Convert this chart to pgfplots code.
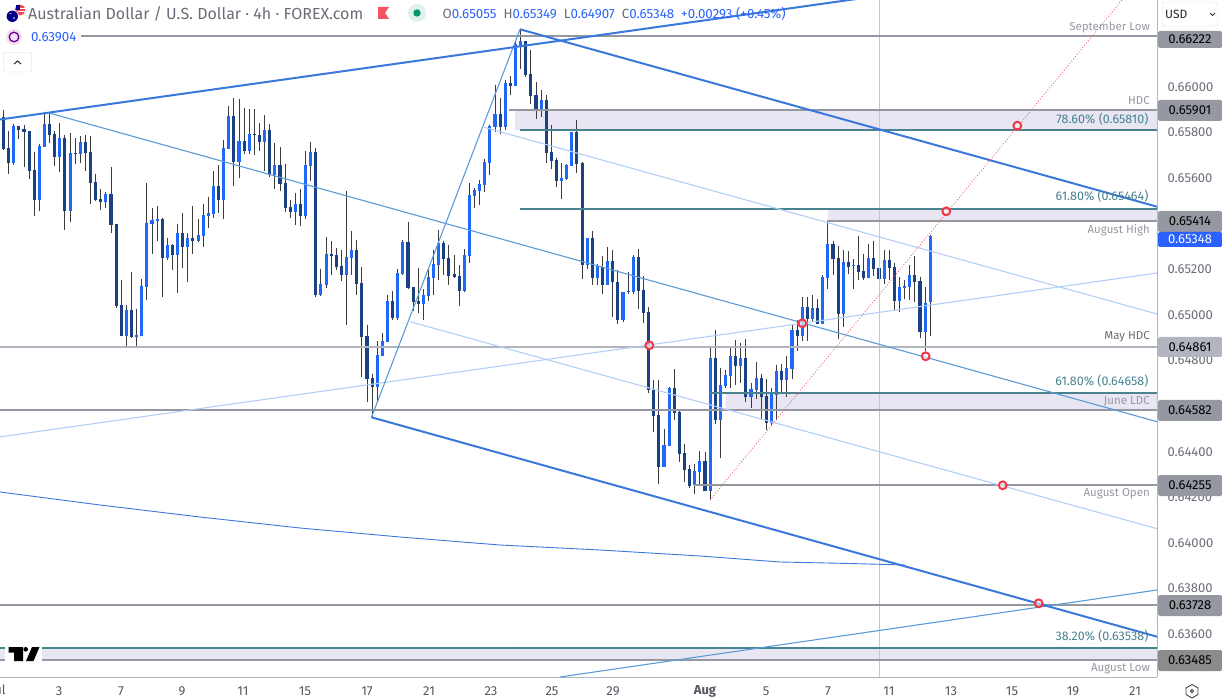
\documentclass[border=0pt]{standalone}
\usepackage{pgfplots}
\usepackage{pgfplotstable}
\usepackage{fontspec}
\setmainfont{Fira Sans}
\pgfplotsset{compat=1.18}
\definecolor{candU}{HTML}{2068FA}
\definecolor{candD}{HTML}{1A4283}
\definecolor{wick}{HTML}{3C3C3C}
\definecolor{lvl}{HTML}{9598A1}
\definecolor{lvlL}{HTML}{B2B5BE}
\definecolor{teal2}{HTML}{4A8290}
\definecolor{zone}{HTML}{E9E6F3}
\definecolor{thick}{HTML}{3B78DC}
\definecolor{mid}{HTML}{5B9BD5}
\definecolor{pale}{HTML}{B3CFF7}
\definecolor{redc}{HTML}{F23645}
\definecolor{tvb}{HTML}{2962FF}
\definecolor{txt}{HTML}{6A6D78}
\pgfplotstableread{
i o h l c
2 0.65666 0.65838 0.65658 0.65829
7 0.65505 0.65749 0.65457 0.65742
8 0.65739 0.65888 0.65739 0.65838
11 0.65693 0.65841 0.65625 0.65777
13 0.65457 0.65797 0.65410 0.65710
15 0.65707 0.65785 0.65666 0.65759
20 0.65496 0.65540 0.65470 0.65531
24 0.64908 0.65044 0.64861 0.65022
26 0.64904 0.65027 0.64861 0.64913
27 0.64908 0.65157 0.64908 0.65128
28 0.65125 0.65579 0.65066 0.65402
29 0.65399 0.65468 0.65268 0.65417
30 0.65413 0.65478 0.65326 0.65421
32 0.65250 0.65338 0.65242 0.65307
34 0.65264 0.65399 0.65098 0.65359
36 0.65299 0.65359 0.65145 0.65338
38 0.65325 0.65423 0.65321 0.65351
39 0.65347 0.65487 0.65299 0.65439
40 0.65435 0.65519 0.65382 0.65446
41 0.65443 0.65632 0.65426 0.65566
43 0.65505 0.65768 0.65421 0.65731
44 0.65728 0.65917 0.65728 0.65873
46 0.65671 0.65948 0.65601 0.65764
48 0.65720 0.65904 0.65707 0.65794
51 0.65759 0.65878 0.65632 0.65812
53 0.65614 0.65753 0.65553 0.65658
57 0.65452 0.65535 0.65395 0.65487
59 0.65435 0.65720 0.65421 0.65658
60 0.65654 0.65759 0.65588 0.65715
62 0.65088 0.65202 0.65084 0.65136
63 0.65132 0.65342 0.65119 0.65268
67 0.65176 0.65544 0.64957 0.65255
68 0.65250 0.65369 0.65176 0.65285
73 0.64685 0.64886 0.64620 0.64825
74 0.64821 0.64920 0.64821 0.64886
75 0.64882 0.65088 0.64882 0.65062
77 0.64989 0.65202 0.64979 0.65186
78 0.65180 0.65329 0.65176 0.65322
82 0.65048 0.65113 0.64978 0.65088
83 0.65083 0.65197 0.65062 0.65167
84 0.65162 0.65285 0.65088 0.65224
85 0.65219 0.65373 0.65154 0.65316
90 0.65105 0.65290 0.65101 0.65263
91 0.65259 0.65579 0.65228 0.65526
92 0.65522 0.65557 0.65469 0.65548
93 0.65544 0.65592 0.65483 0.65575
94 0.65570 0.65684 0.65540 0.65671
95 0.65667 0.65833 0.65614 0.65829
96 0.65825 0.66009 0.65803 0.65882
98 0.65825 0.66031 0.65811 0.66018
100 0.66004 0.66206 0.66004 0.66189
101 0.66180 0.66250 0.66079 0.66202
105 0.65904 0.65987 0.65869 0.65943
109 0.65588 0.65667 0.65509 0.65601
110 0.65597 0.65662 0.65592 0.65658
111 0.65654 0.65804 0.65654 0.65804
114 0.65219 0.65338 0.65202 0.65338
116 0.65162 0.65224 0.65132 0.65215
118 0.65132 0.65298 0.65132 0.65237
121 0.64978 0.65101 0.64969 0.65101
122 0.65101 0.65189 0.65092 0.65105
123 0.65101 0.65263 0.65092 0.65254
129 0.64333 0.64500 0.64333 0.64430
130 0.64425 0.64684 0.64425 0.64680
135 0.64254 0.64346 0.64215 0.64316
136 0.64311 0.64403 0.64254 0.64360
138 0.64228 0.64855 0.64188 0.64811
140 0.64539 0.64767 0.64373 0.64693
141 0.64689 0.64759 0.64680 0.64737
142 0.64732 0.64855 0.64680 0.64820
144 0.64776 0.64877 0.64702 0.64811
146 0.64640 0.64702 0.64592 0.64675
147 0.64671 0.64794 0.64632 0.64724
150 0.64526 0.64680 0.64517 0.64658
151 0.64649 0.64781 0.64539 0.64754
153 0.64715 0.64820 0.64642 0.64767
154 0.64763 0.64956 0.64719 0.64934
156 0.64908 0.65079 0.64886 0.65035
158 0.64982 0.65088 0.64974 0.65031
160 0.64960 0.65175 0.64960 0.65167
161 0.65162 0.65408 0.65114 0.65311
164 0.65004 0.65285 0.64947 0.65232
166 0.65215 0.65246 0.65114 0.65219
169 0.65162 0.65311 0.65162 0.65250
172 0.65158 0.65285 0.65136 0.65241
175 0.65061 0.65167 0.65013 0.65123
176 0.65118 0.65153 0.65070 0.65127
177 0.65123 0.65219 0.65066 0.65175
180 0.64925 0.65123 0.64840 0.65053
181 0.65055 0.65349 0.64907 0.65348
}\upbars
\pgfplotstableread{
i o h l c
0 0.65867 0.65899 0.65724 0.65728
1 0.65731 0.65807 0.65619 0.65666
3 0.65829 0.65829 0.65772 0.65812
4 0.65816 0.65832 0.65651 0.65803
5 0.65807 0.65807 0.65597 0.65632
6 0.65636 0.65717 0.65435 0.65505
9 0.65838 0.65885 0.65753 0.65790
10 0.65794 0.65809 0.65654 0.65693
12 0.65777 0.65790 0.65373 0.65457
14 0.65711 0.65775 0.65663 0.65707
16 0.65759 0.65790 0.65633 0.65711
17 0.65715 0.65787 0.65487 0.65579
18 0.65584 0.65619 0.65500 0.65505
19 0.65509 0.65553 0.65461 0.65496
21 0.65531 0.65649 0.65360 0.65395
22 0.65399 0.65399 0.65031 0.65040
23 0.65044 0.65154 0.64908 0.64908
25 0.65022 0.65189 0.64897 0.64902
31 0.65421 0.65424 0.65081 0.65252
33 0.65307 0.65312 0.65198 0.65264
35 0.65359 0.65446 0.65207 0.65299
37 0.65338 0.65478 0.65268 0.65325
42 0.65566 0.65658 0.65446 0.65505
45 0.65873 0.65952 0.65566 0.65671
47 0.65764 0.65908 0.65707 0.65720
49 0.65794 0.65904 0.65702 0.65790
50 0.65790 0.65842 0.65720 0.65759
52 0.65812 0.65838 0.65607 0.65614
54 0.65658 0.65737 0.65544 0.65575
55 0.65579 0.65663 0.65452 0.65470
56 0.65474 0.65505 0.65426 0.65452
58 0.65487 0.65553 0.65391 0.65435
61 0.65715 0.65731 0.65079 0.65088
64 0.65268 0.65325 0.65176 0.65259
65 0.65264 0.65294 0.65198 0.65211
66 0.65215 0.65285 0.65149 0.65176
69 0.65285 0.65329 0.65088 0.65136
70 0.65141 0.65211 0.64728 0.64904
71 0.64908 0.64957 0.64620 0.64720
72 0.64724 0.64742 0.64547 0.64685
76 0.65062 0.65106 0.64979 0.64987
79 0.65322 0.65410 0.65113 0.65117
80 0.65124 0.65124 0.65018 0.65059
81 0.65062 0.65205 0.65007 0.65050
86 0.65316 0.65325 0.65176 0.65246
87 0.65250 0.65307 0.65132 0.65171
88 0.65180 0.65263 0.65161 0.65167
89 0.65171 0.65219 0.65040 0.65105
97 0.65882 0.65952 0.65794 0.65825
99 0.66018 0.66048 0.65965 0.66004
102 0.66202 0.66202 0.66044 0.66053
103 0.66057 0.66162 0.65926 0.65961
104 0.65965 0.66022 0.65860 0.65904
106 0.65943 0.65965 0.65667 0.65711
107 0.65715 0.65833 0.65640 0.65676
108 0.65680 0.65689 0.65561 0.65588
112 0.65804 0.65855 0.65624 0.65662
113 0.65665 0.65671 0.65158 0.65219
115 0.65338 0.65368 0.65132 0.65162
117 0.65211 0.65259 0.65092 0.65132
119 0.65237 0.65285 0.64991 0.65145
120 0.65145 0.65197 0.64960 0.64978
124 0.65254 0.65289 0.65026 0.65105
125 0.65110 0.65171 0.64965 0.65009
126 0.65013 0.65035 0.64659 0.64671
127 0.64671 0.64715 0.64487 0.64557
128 0.64561 0.64715 0.64259 0.64333
131 0.64680 0.64763 0.64539 0.64570
132 0.64574 0.64583 0.64355 0.64390
133 0.64395 0.64434 0.64267 0.64320
134 0.64324 0.64342 0.64241 0.64250
137 0.64360 0.64399 0.64228 0.64228
139 0.64811 0.64934 0.64522 0.64539
143 0.64820 0.64890 0.64693 0.64776
145 0.64811 0.64895 0.64618 0.64640
148 0.64724 0.64741 0.64544 0.64640
149 0.64645 0.64719 0.64496 0.64526
152 0.64754 0.64785 0.64658 0.64715
155 0.64934 0.64978 0.64842 0.64908
157 0.65035 0.65079 0.64886 0.64982
159 0.65031 0.65070 0.64960 0.64960
162 0.65311 0.65325 0.65175 0.65246
163 0.65250 0.65303 0.64895 0.65004
165 0.65232 0.65281 0.65180 0.65211
167 0.65219 0.65346 0.65153 0.65189
168 0.65193 0.65268 0.65153 0.65162
170 0.65250 0.65325 0.65171 0.65202
171 0.65206 0.65276 0.65136 0.65158
173 0.65241 0.65285 0.65153 0.65206
174 0.65211 0.65227 0.65022 0.65061
178 0.65175 0.65259 0.65057 0.65145
179 0.65149 0.65167 0.64899 0.64925
}\downbars
\pgfplotsset{
 wicks/.style={forget plot, draw=none, mark=none, error bars/.cd, y dir=minus, y explicit, error mark=none,
   error bar style={line width=0.9pt, draw=wick}},
 bodyU/.style={forget plot, draw=none, mark=none, error bars/.cd, y dir=minus, y explicit, error mark=none,
   error bar style={line width=3.1pt, draw=candU}},
 bodyD/.style={forget plot, draw=none, mark=none, error bars/.cd, y dir=minus, y explicit, error mark=none,
   error bar style={line width=3.1pt, draw=candD}},
 hl/.style={forget plot, line width=2pt, color=lvl},
 hlg/.style={forget plot, line width=2pt, color=teal2},
}
\begin{document}
\begin{tikzpicture}
\useasboundingbox (0pt,-22pt) rectangle (1222pt,677pt);
\begin{axis}[
 scale only axis, width=1157pt, height=677pt, at={(0pt,0pt)}, anchor=south west,
 xmin=0, xmax=1157, ymin=0.634123, ymax=0.663816,
 axis x line*=bottom, axis y line*=right,
 axis line style={lvlL, line width=0.9pt, -},
 major tick length=0pt,
 xtick={59,121,182,243,305,367,429,491,552,613,705,766,828,889,951,1012,1073,1135},
 xticklabels={3,7,9,11,15,17,21,23,25,29,\textbf{Aug},5,7,11,13,15,19,21},
 xticklabel style={font=\fontsize{13}{15}\selectfont, text=txt!80!black, anchor=center, yshift=-14pt},
 ytick={0.636,0.638,0.640,0.642,0.644,0.648,0.650,0.652,0.656,0.658,0.660},
 scaled y ticks=false,
 yticklabel style={font=\fontsize{13}{15}\selectfont, text=txt, anchor=west, xshift=7pt,
   /pgf/number format/fixed, /pgf/number format/fixed zerofill, /pgf/number format/precision=5,
   /pgf/number format/assume math mode=true},
 clip=true,
]
% zones
\addplot[forget plot, fill=zone, draw=none] coordinates {(515,0.65901)(1157,0.65901)(1157,0.65810)(515,0.65810)} \closedcycle;
\addplot[forget plot, fill=zone, draw=none] coordinates {(828,0.65464)(1157,0.65464)(1157,0.65414)(828,0.65414)} \closedcycle;
\addplot[forget plot, fill=zone, draw=none] coordinates {(725.5,0.64658)(1157,0.64658)(1157,0.64582)(725.5,0.64582)} \closedcycle;
\addplot[forget plot, fill=zone, draw=none] coordinates {(0,0.63538)(1157,0.63538)(1157,0.63485)(0,0.63485)} \closedcycle;
% candles: wicks then bodies
\addplot[wicks] table[x expr=3.5+5.12*\thisrow{i}, y=h, y error minus expr=\thisrow{h}-\thisrow{l}] {\upbars};
\addplot[wicks] table[x expr=3.5+5.12*\thisrow{i}, y=h, y error minus expr=\thisrow{h}-\thisrow{l}] {\downbars};
\addplot[bodyU] table[x expr=3.5+5.12*\thisrow{i}, y=c, y error minus expr=\thisrow{c}-\thisrow{o}] {\upbars};
\addplot[bodyD] table[x expr=3.5+5.12*\thisrow{i}, y=o, y error minus expr=\thisrow{o}-\thisrow{c}] {\downbars};
% vertical crosshair
\addplot[forget plot, color=black!22, line width=0.9pt] coordinates {(879,0.663816)(879,0.634123)};
% horizontal levels
\addplot[hl] coordinates {(0,0.66222)(1157,0.66222)};
\addplot[hl] coordinates {(509,0.65901)(1157,0.65901)};
\addplot[hlg] coordinates {(520,0.65810)(1157,0.65810)};
\addplot[hlg] coordinates {(520,0.65464)(1157,0.65464)};
\addplot[hl] coordinates {(827,0.65414)(1157,0.65414)};
\addplot[hl, color=lvlL] coordinates {(0,0.64861)(1157,0.64861)};
\addplot[hlg] coordinates {(709,0.64658)(1157,0.64658)};
\addplot[hl] coordinates {(0,0.64582)(1157,0.64582)};
\addplot[hl] coordinates {(694,0.64255)(1157,0.64255)};
\addplot[hl] coordinates {(0,0.63728)(1157,0.63728)};
\addplot[hlg] coordinates {(0,0.63538)(1157,0.63538)};
\addplot[hl] coordinates {(0,0.63485)(1157,0.63485)};
% moving average
\addplot[forget plot, color=thick, line width=0.9pt] coordinates {(0,0.642237)(100,0.641667)(200,0.64114)(300,0.640658)(400,0.640263)(500,0.639912)(600,0.639693)(700,0.63943)(780,0.639167)(850,0.639101)(905,0.639035)};
% channels
\addplot[forget plot, color=pale, line width=1.1pt] coordinates {(484,0.658233)(1157,0.650044)};
\addplot[forget plot, color=pale, line width=1.1pt] coordinates {(410,0.649706)(1157,0.640628)};
\addplot[forget plot, color=pale, line width=1.1pt] coordinates {(0,0.644654)(1157,0.651842)};
\addplot[forget plot, color=mid, line width=1.1pt] coordinates {(48,0.658873)(1157,0.64532)};
\addplot[forget plot, color=mid, line width=1.1pt] coordinates {(560,0.634123)(1157,0.637939)};
\addplot[forget plot, color=mid, line width=1.1pt] coordinates {(371.5,0.645513)(520,0.662531)};
\addplot[forget plot, color=thick, line width=2pt] coordinates {(0,0.658575)(860,0.663882)};
\addplot[forget plot, color=thick, line width=2pt] coordinates {(520,0.662531)(1157,0.65475)};
\addplot[forget plot, color=thick, line width=2pt] coordinates {(371.5,0.645513)(1157,0.63589)};
% red dotted trend line
\addplot[forget plot, color=redc!80, line width=0.9pt, dotted] coordinates {(710,0.641886)(1122,0.663816)};
% rings
\addplot[forget plot, only marks, mark=*, mark size=3.9pt, mark options={draw=redc, line width=2pt, fill=white, fill opacity=0.55}] coordinates {
 (649.3,0.648671)(802.3,0.649636)(925.7,0.648189)(946.3,0.654548)(1017.3,0.658303)(1002.7,0.642531)(1038.7,0.637356)};
\end{axis}
\begin{scope}[x=1pt,y=-1pt,yshift=677pt]
\newcommand{\lab}[4]{\node[anchor=east, inner sep=0pt, text=#3, font=\fontsize{#4}{14}\selectfont] at (1150,#1) {#2};}
\newcommand{\labg}[2]{\node[anchor=east, inner sep=0pt, text=teal2, font=\fontsize{12.5}{14}\selectfont] at (1148.5,#1) {#2};}
\lab{27}{September Low}{lvl}{11.5}
\lab{101}{HDC}{lvl}{11.5}
\labg{119}{78.60\% (0.65810)}
\labg{196}{61.80\% (0.65464)}
\lab{230}{August High}{lvl}{11.5}
\lab{337}{May HDC}{txt}{11.5}
\labg{381}{61.80\% (0.64658)}
\lab{401}{June LDC}{lvl}{11.5}
\lab{494}{August Open}{lvl}{11.5}
\labg{636}{38.20\% (0.63538)}
\lab{669}{August Low}{lvl}{11.5}
% right scale boxes
\newcommand{\pbox}[5]{\fill[#3, rounded corners=1.5pt] (1158,#1) rectangle (1222,#2);
 \node[anchor=center, inner sep=0pt, text=#4, font=\fontsize{13}{15}\selectfont] at (1190,{(#1+#2)/2}) {#5};}
\pbox{31}{48}{lvl}{black}{0.66222}
\pbox{100}{121}{lvl}{black}{0.65901}
\pbox{211}{232}{lvl}{black}{0.65414}
\pbox{232}{247}{tvb}{white}{0.65348}
\pbox{337}{357}{lvlL}{black}{0.64861}
\pbox{400}{421}{lvl}{black}{0.64582}
\pbox{475}{496}{lvl}{black}{0.64255}
\pbox{595}{616}{lvl}{black}{0.63728}
\pbox{650}{671}{black!45}{black}{0.63485}
% Jul tick
\node[anchor=center, inner sep=0pt, text=txt!80!black, font=\fontsize{13}{15}\selectfont] at (-2,691) {Jul};
% USD selector
\draw[black!12, fill=white, rounded corners=3pt] (1162,2) rectangle (1218,26);
\node[anchor=west, inner sep=0pt, text=black!85, font=\fontsize{12}{14}\selectfont] at (1165,14) {USD};
\draw[black!80, line width=0.8pt] (1210,13) -- (1212.5,15.5) -- (1215,13);
% settings icon
\draw[black!75, line width=0.9pt] (1192,684.5) -- (1198,688) -- (1198,694.5) -- (1192,698) -- (1186,694.5) -- (1186,688) -- cycle;
\draw[black!75, line width=0.9pt] (1192,691.2) circle (1.6);
% header
\fill[white] (0,28) rectangle (81,46);
\node[anchor=west, inner sep=0pt, text=txt, font=\fontsize{16}{18}\selectfont] at (28,14) {Australian Dollar / U.S. Dollar · 4h · FOREX.com};
\fill[redc!85!white] (378,7) -- (389,7) -- (385,13) -- (389,19) -- (378,19) -- cycle;
\fill[teal!12] (417,13) circle (9);
\fill[teal!80!green] (417,13) circle (3.7);
\node[anchor=west, inner sep=0pt, font=\fontsize{13.3}{15}\selectfont] at (442.5,13.5) {\textcolor{txt}{O}\textcolor{tvb}{0.65055}\hspace{7pt}\textcolor{txt}{H}\textcolor{tvb}{0.65349}\hspace{7pt}\textcolor{txt}{L}\textcolor{tvb}{0.64907}\hspace{7pt}\textcolor{txt}{C}\textcolor{tvb}{0.65348}\hspace{7pt}\textcolor{tvb}{+0.00293 (+0.45\%)}};
% flags
\fill[redc!90] (20,10) circle (5.5);
\fill[white] (18,8) rectangle (25.5,9.5);
\fill[white] (18,11) rectangle (25.5,12.5);
\fill[blue!60!black] (15.5,5.5) rectangle (20,10);
\fill[white] (12.3,16.3) circle (6.5);
\fill[blue!55!black] (12.3,16.3) circle (5.7);
\fill[red!80] (9,13) rectangle (12,14.5);
\fill[white] (14,18) circle (0.9);
% indicator icon
\fill[violet!12] (14,37) circle (8);
\draw[violet!80!blue, line width=1.3pt] (14,37) circle (4.8);
\node[anchor=west, inner sep=0pt, text=tvb, font=\fontsize{13.3}{15}\selectfont] at (31,37.5) {0.63904};
% collapse button
\draw[black!15, fill=white, rounded corners=2pt] (3.5,52.5) rectangle (31.5,72);
\draw[black!85, line width=1pt] (14,64) -- (17.5,61) -- (21,64);
% logo
\fill[white] (5,645) rectangle (42,663);
\fill[black] (8.5,647) -- (23,647) -- (23,661) -- (14,661) -- (14,652.5) -- (8.5,652.5) -- cycle;
\fill[black] (25.7,649.3) circle (2.3);
\fill[black] (32,647) -- (39.5,647) -- (33.5,661) -- (26,661) -- cycle;
\end{scope}
\end{tikzpicture}
\end{document}
